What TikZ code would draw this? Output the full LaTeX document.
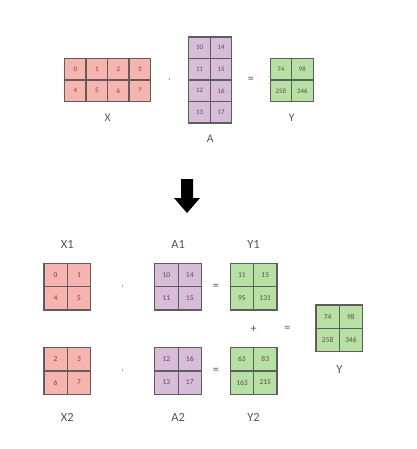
\documentclass[tikz,border=0pt]{standalone}
\usepackage{fontspec}
\setmainfont{Carlito}
\usetikzlibrary{positioning, matrix, calc}

\definecolor{xred}{HTML}{F7B3AD}
\definecolor{apurple}{HTML}{D8BDD9}
\definecolor{ygreen}{HTML}{B7E1A3}
\definecolor{cellline}{HTML}{5E5E5E}
\definecolor{numcol}{HTML}{5E4A4A}
\definecolor{lblcol}{HTML}{555555}

\begin{document}
\begin{tikzpicture}[
    x=1pt, y=-1pt,
    node distance=12pt,
    grid/.style={matrix of nodes, inner sep=0pt, column sep=-1.2pt, row sep=-1.2pt,
        nodes={draw=cellline, line width=1.2pt, minimum size=#1, inner sep=0pt, anchor=center, text=numcol}},
    smallgrid/.style={grid=21.5pt, nodes={font=\fontsize{6.8}{8}\selectfont}},
    biggrid/.style={grid=23.3pt, nodes={font=\fontsize{7.5}{9}\selectfont}},
    xm/.style={nodes={fill=xred}},
    am/.style={nodes={fill=apurple}},
    ym/.style={nodes={fill=ygreen}},
    lbl/.style={inner sep=0pt, text=lblcol, font=\fontsize{11.5}{13}\selectfont},
    biglbl/.style={lbl, font=\fontsize{12.5}{14}\selectfont},
    op/.style={inner sep=0pt, text=lblcol, font=\fontsize{12}{14}\selectfont},
]
\useasboundingbox (0,0) rectangle (416,449);

% Top product
\matrix (X) [smallgrid, xm] at (107.5,80) {0 & 1 & 2 & 3\\ 4 & 5 & 6 & 7\\};
\matrix (A) [smallgrid, am, right=36.7pt of X] {10 & 14\\ 11 & 15\\ 12 & 16\\ 13 & 17\\};
\matrix (Y) [smallgrid, ym, right=36.7pt of A] {74 & 98\\ 258 & 346\\};

\node [op] (dot) at ($(X.east)!0.5!(A.west)$) {$\cdot$};
\node [op] (eq) at ($(A.east)!0.5!(Y.west)$) {=};

\node [lbl, below=of X] (xl) {X};
\node [lbl, below=11pt of A] (al) {A};
\node [lbl, below=of Y] (yl) {Y};

% Arrow
\coordinate (arr) at (187,179);
\fill ($(arr)+(-6,0)$) -- ($(arr)+(6,0)$) -- ($(arr)+(6,19)$) -- ($(arr)+(13,19)$)
    -- ($(arr)+(0,34)$) -- ($(arr)+(-13,19)$) -- ($(arr)+(-6,19)$) -- cycle;

% Split product
\matrix (X1) [biggrid, xm] at (67.3,286.7) {0 & 1\\ 4 & 5\\};
\matrix (A1) [biggrid, am, right=62.6pt of X1] {10 & 14\\ 11 & 15\\};
\matrix (Y1) [biggrid, ym, right=27.3pt of A1] {11 & 15\\ 95 & 131\\};
\matrix (X2) [biggrid, xm, below=36pt of X1] {2 & 3\\ 6 & 7\\};
\matrix (A2) [biggrid, am, below=36pt of A1] {12 & 16\\ 13 & 17\\};
\matrix (Y2) [biggrid, ym, below=36pt of Y1] {63 & 83\\ 163 & 215\\};
\matrix (Ysum) [biggrid, ym] at (339.3,328.3) {74 & 98\\ 258 & 346\\};

\node [op] (dot1) at ($(X1.east)!0.5!(A1.west)$) {$\cdot$};
\node [op] (eq1) at ($(A1.east)!0.5!(Y1.west)$) {=};
\node [op] (dot2) at ($(X2.east)!0.5!(A2.west)$) {$\cdot$};
\node [op] (eq2) at ($(A2.east)!0.5!(Y2.west)$) {=};
\node [op] (plus) at ($(Y1.south)!0.5!(Y2.north)$) {+};
\node [op] (eq3) at ($(plus)!0.55!(Ysum.west)$) {=};

\node [biglbl, above=14.3pt of X1] (x1l) {X1};
\node [biglbl, above=14.3pt of A1] (a1l) {A1};
\node [biglbl, above=14.3pt of Y1] (y1l) {Y1};
\node [biglbl, below=17.7pt of X2] (x2l) {X2};
\node [biglbl, below=17.7pt of A2] (a2l) {A2};
\node [biglbl, below=17.7pt of Y2] (y2l) {Y2};
\node [biglbl, below=13.3pt of Ysum] (ysl) {Y};

\end{tikzpicture}
\end{document}
